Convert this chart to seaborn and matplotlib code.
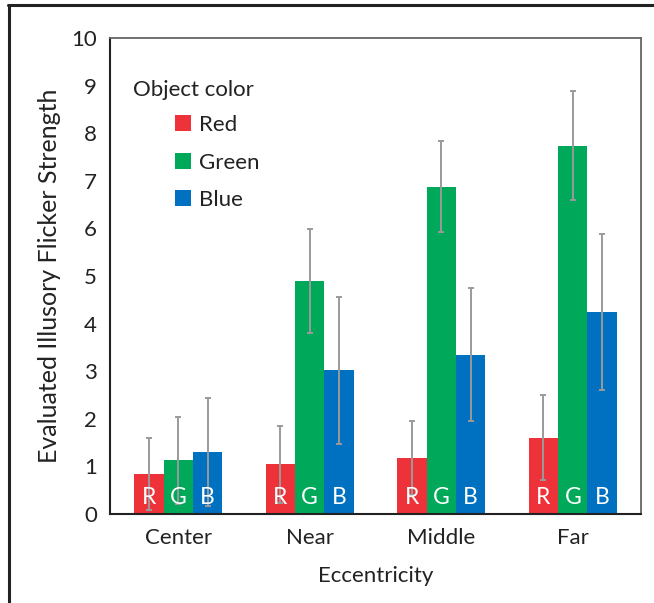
import matplotlib
matplotlib.use("Agg")
import matplotlib.pyplot as plt
import seaborn as sns
import pandas as pd
import numpy as np
from matplotlib.lines import Line2D

categories = ["Center", "Near", "Middle", "Far"]
colors_names = ["Red", "Green", "Blue"]
letters = ["R", "G", "B"]
red_vals = [0.84, 1.04, 1.17, 1.60]
green_vals = [1.13, 4.89, 6.88, 7.74]
blue_vals = [1.30, 3.02, 3.35, 4.24]
red_err = [0.76, 0.81, 0.78, 0.89]
green_err = [0.91, 1.09, 0.96, 1.14]
blue_err = [1.14, 1.54, 1.39, 1.64]
palette = ["#EE3239", "#00A859", "#0070C0"]
yticks = list(range(0, 11))

sns.set_style("white")
plt.rcParams["font.family"] = ["Lato", "DejaVu Sans"]

rows = []
for name, vals, errs in zip(colors_names, [red_vals, green_vals, blue_vals],
                            [red_err, green_err, blue_err]):
    for c, v, e in zip(categories, vals, errs):
        rows.append({"Eccentricity": c, "Object color": name, "value": v, "err": e})
df = pd.DataFrame(rows)

FS = 16
fig = plt.figure(figsize=(6.54, 6.03), dpi=100)
ax = fig.add_axes([110/654, 89/603, 531/654, 476/603])

sns.barplot(data=df, x="Eccentricity", y="value", hue="Object color",
            order=categories, hue_order=colors_names, palette=palette,
            errorbar=None, width=0.67, linewidth=0, saturation=1, ax=ax)

# error bars and letters, matched to bars
for p in ax.patches:
    h = p.get_height()
    w = p.get_width()
    if w <= 0 or h <= 0:
        continue
    xc = p.get_x() + w / 2
    ci = int(round(xc))
    sub = df[df["Eccentricity"] == categories[ci]]
    idx = (sub["value"] - h).abs().idxmin()
    row = df.loc[idx]
    ax.errorbar(xc, row["value"], yerr=row["err"], fmt="none", ecolor="#9a9a9a",
                elinewidth=1.4, capsize=2.5, capthick=1.4, zorder=5)
    letter = letters[colors_names.index(row["Object color"])]
    ax.text(xc, 0.35, letter, color="white", ha="center", va="center",
            fontsize=16.5, zorder=6)

ax.set_ylim(0, 10)
ax.set_yticks(yticks)
ax.set_yticklabels([str(t) for t in yticks])
ax.tick_params(axis="both", length=0, labelsize=FS, colors="#222222")
ax.tick_params(axis="y", pad=9.5)
ax.tick_params(axis="x", pad=10)
ax.set_xlabel("Eccentricity", fontsize=FS, color="#222222", labelpad=13)
ax.set_ylabel("Evaluated Illusory Flicker Strength", fontsize=18, color="#222222",
              labelpad=7)

for s in ["left", "bottom"]:
    ax.spines[s].set_color("#222222")
    ax.spines[s].set_linewidth(1.5)
for s in ["top", "right"]:
    ax.spines[s].set_color("#666666")
    ax.spines[s].set_linewidth(1.3)

# legend
handles, labels = ax.get_legend_handles_labels()
leg = ax.legend(handles, labels, loc="upper left", bbox_to_anchor=(0.122, 0.838),
                frameon=False, fontsize=FS, handlelength=0.73, handleheight=0.73,
                handletextpad=0.35, labelspacing=0.79, borderpad=0, borderaxespad=0)
for t in leg.get_texts():
    t.set_color("#222222")
ax.text(0.043, 0.891, "Object color", transform=ax.transAxes, ha="left",
        va="center", fontsize=FS, color="#222222")

# outer frame fragments
fig.add_artist(Line2D([8/654, 1.0], [1 - 5/603, 1 - 5/603], color="#222222", lw=2.2,
                      transform=fig.transFigure))
fig.add_artist(Line2D([9/654, 9/654], [1 - 5/603, 0.0], color="#222222", lw=2.2,
                      transform=fig.transFigure))

fig.savefig("out.png", dpi=100)
